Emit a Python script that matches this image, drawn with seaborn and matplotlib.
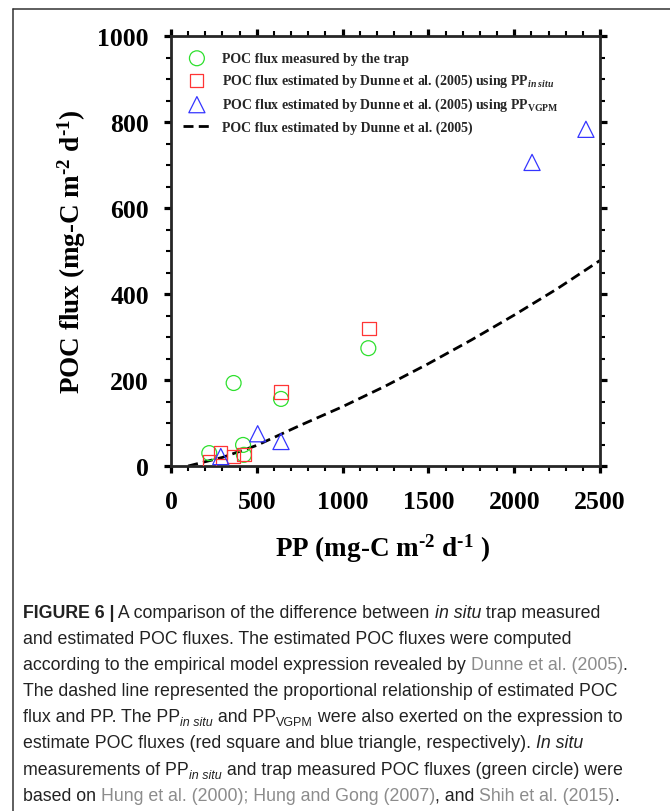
import matplotlib
matplotlib.use('Agg')
import numpy as np
import pandas as pd
import matplotlib.pyplot as plt
import seaborn as sns
from matplotlib.ticker import MultipleLocator
from matplotlib.lines import Line2D
from matplotlib.transforms import IdentityTransform

# values
trap_pp = [223, 365, 420, 425, 641, 1150]
trap_poc = [30, 193, 49, 26, 156, 274]
insitu_pp = [223, 290, 363, 425, 641, 1154]
insitu_poc = [10, 32, 22, 27, 172, 319]
vgpm_pp = [290, 505, 641, 2104, 2418]
vgpm_poc = [22, 75, 57, 706, 783]
dunne_pp = [100, 300, 500, 750, 1000, 1250, 1500, 1750, 2000, 2250, 2500]
dunne_poc = [0, 20, 48, 94, 138, 186, 238, 293, 351, 412, 478]

labels = ['POC flux measured by the trap',
          'POC flux estimated by Dunne et al. (2005) using PP$_{in\\ situ}$',
          'POC flux estimated by Dunne et al. (2005) using PP$_{\\mathrm{VGPM}}$',
          'POC flux estimated by Dunne et al. (2005)']

sns.set_theme(style='ticks')
plt.rcParams['font.family'] = ['Liberation Serif', 'DejaVu Serif']
plt.rcParams['font.weight'] = 'bold'
plt.rcParams['mathtext.fontset'] = 'custom'
plt.rcParams['mathtext.rm'] = 'Liberation Serif:bold'
plt.rcParams['mathtext.it'] = 'Liberation Serif:bold:italic'
plt.rcParams['mathtext.bf'] = 'Liberation Serif:bold'

fig = plt.figure(figsize=(6.7, 8.12), dpi=100)
ax = fig.add_axes([171 / 670, 345 / 812, 429 / 670, 430 / 812])

green, red, blue = '#2ee02e', '#ff3535', '#3535ff'

sns.scatterplot(x=trap_pp, y=trap_poc, marker='o', s=115, color='none',
                edgecolor=green, linewidth=0.9, label=labels[0], ax=ax, zorder=3)
sns.scatterplot(x=insitu_pp, y=insitu_poc, marker='s', s=90, color='none',
                edgecolor=red, linewidth=0.9, label=labels[1], ax=ax, zorder=3)
sns.scatterplot(x=vgpm_pp, y=vgpm_poc, marker='^', s=135, color='none',
                edgecolor=blue, linewidth=0.9, label=labels[2], ax=ax, zorder=3)
sns.lineplot(x=dunne_pp, y=dunne_poc, color='black', linewidth=2,
             linestyle=(0, (3.6, 1.9)), label=labels[3], ax=ax)

ax.set_xlim(0, 2500)
ax.set_ylim(0, 1000)
ax.xaxis.set_major_locator(MultipleLocator(500))
ax.xaxis.set_minor_locator(MultipleLocator(100))
ax.yaxis.set_major_locator(MultipleLocator(200))
ax.yaxis.set_minor_locator(MultipleLocator(50))
for sp in ax.spines.values():
    sp.set_visible(True)
    sp.set_linewidth(2)
ax.tick_params(which='major', direction='out', length=5, width=2.3,
               top=True, right=True, labelsize=18.5, color='black', labelcolor='black')
ax.tick_params(which='minor', direction='out', length=3.5, width=1.5,
               top=True, right=True, color='black')
ax.tick_params(axis='x', which='major', pad=12)
ax.tick_params(axis='y', which='major', pad=11)
for lab in ax.get_xticklabels() + ax.get_yticklabels():
    lab.set_fontweight('bold')

ax.set_xlabel('PP (mg-C m$^{\\text{-2}}$ d$^{\\text{-1}}$ )', fontsize=19.5,
              fontweight='bold', color='black')
ax.set_ylabel('POC flux (mg-C m$^{\\text{-2}}$ d$^{\\text{-1}}$)', fontsize=19.5,
              fontweight='bold', color='black')
ax.xaxis.set_label_coords(0.494, -0.152)
ax.yaxis.set_label_coords(-0.193, 0.5)

leg = ax.legend(loc='upper left', bbox_to_anchor=(0.028, 0.963), frameon=False,
                prop={'family': 'Liberation Serif', 'weight': 'bold', 'size': 10},
                borderpad=0, borderaxespad=0, handlelength=2.0, handletextpad=0.8,
                labelspacing=0.5)

# page frame lines
fig.add_artist(Line2D([13 / 670, 13 / 670], [0, 802 / 812], transform=fig.transFigure,
                      color='#333333', linewidth=1.1))
fig.add_artist(Line2D([13 / 670, 1], [802 / 812, 802 / 812], transform=fig.transFigure,
                      color='#333333', linewidth=1.1))

# caption
dark, grey = '#222222', '#8c8c8c'
base = dict(family=['Liberation Sans', 'DejaVu Sans'], size=12.8, color=dark, fontweight='normal')
styles = {
    'r': dict(base),
    'b': dict(base, fontweight='bold'),
    'i': dict(base, style='italic'),
    'g': dict(base, color=grey),
    'si': dict(base, style='italic', size=9, dy=-4),
    's': dict(base, size=9, dy=-4),
}
caption = [
    [('FIGURE 6 |', 'b'), (' A comparison of the difference between ', 'r'), ('in situ', 'i'),
     (' trap measured', 'r')],
    [('and estimated POC fluxes. The estimated POC fluxes were computed', 'r')],
    [('according to the empirical model expression revealed by ', 'r'),
     ('Dunne et al. (2005)', 'g'), ('.', 'r')],
    [('The dashed line represented the proportional relationship of estimated POC', 'r')],
    [('flux and PP. The PP', 'r'), ('in situ', 'si'), (' and PP', 'r'), ('VGPM', 's'),
     (' were also exerted on the expression to', 'r')],
    [('estimate POC fluxes (red square and blue triangle, respectively). ', 'r'), ('In situ', 'i')],
    [('measurements of PP', 'r'), ('in situ', 'si'),
     (' and trap measured POC fluxes (green circle) were', 'r')],
    [('based on ', 'r'), ('Hung et al. (2000); Hung and Gong (2007)', 'g'), (', and ', 'r'),
     ('Shih et al. (2015)', 'g'), ('.', 'r')],
]

renderer = fig.canvas.get_renderer()


def width_of(text, kw):
    t1 = fig.text(0, 0, '|' + text + '|', transform=IdentityTransform(), **kw)
    t2 = fig.text(0, 0, '||', transform=IdentityTransform(), **kw)
    w = t1.get_window_extent(renderer).width - t2.get_window_extent(renderer).width
    t1.remove()
    t2.remove()
    return w


for i, parts in enumerate(caption):
    y = 812 - (618 + 26.1 * i)
    x = 23
    for text, key in parts:
        kw = dict(styles[key])
        dy = kw.pop('dy', 0)
        fig.text(x, y + dy, text, transform=IdentityTransform(), va='baseline', ha='left', **kw)
        x += width_of(text, kw)

fig.savefig('out.png', dpi=100)
